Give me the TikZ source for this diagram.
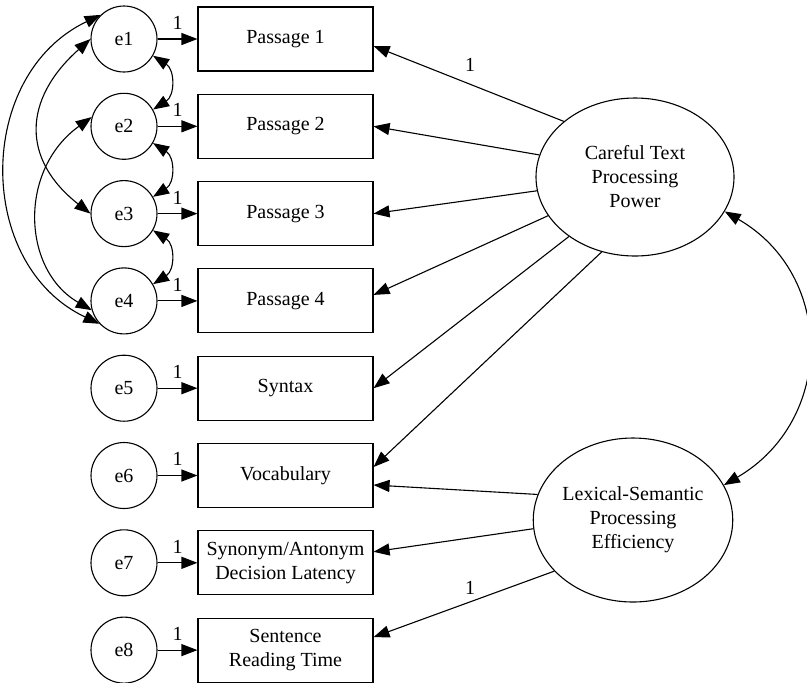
\documentclass[tikz,border=0pt]{standalone}
\usepackage{fontspec}
\setmainfont{Liberation Serif}
\usetikzlibrary{shapes.geometric,arrows.meta}

\begin{document}
\begin{tikzpicture}[x=0.5pt,y=-0.5pt,line width=0.55pt,
  font=\fontsize{10}{12}\selectfont,
  tip/.tip={Triangle[length=8pt,width=6pt]},
  errc/.style={circle,draw,minimum size=33pt,inner sep=0pt},
  obs/.style={rectangle,draw,minimum width=87.5pt,minimum height=32pt,inner sep=1pt,align=center},
  lat/.style={ellipse,draw,minimum width=99pt,inner sep=0pt,align=center},
  reg/.style={-tip},
  cov/.style={tip-tip},
  one/.style={inner sep=0.5pt}]
\useasboundingbox (0,0) rectangle (807,682);

% error terms
\node[errc] (e1) at (124,39)    {e1};
\node[errc] (e2) at (124,126.3) {e2};
\node[errc] (e3) at (124,213.6) {e3};
\node[errc] (e4) at (124,300.9) {e4};
\node[errc] (e5) at (124,388.2) {e5};
\node[errc] (e6) at (124,475.5) {e6};
\node[errc] (e7) at (124,562.8) {e7};
\node[errc] (e8) at (124,650.1) {e8};

% observed measures
\node[obs] (p1) at (285.5,39)    {Passage 1};
\node[obs] (p2) at (285.5,126.3) {Passage 2};
\node[obs] (p3) at (285.5,213.6) {Passage 3};
\node[obs] (p4) at (285.5,300.9) {Passage 4};
\node[obs] (syn) at (285.5,388.2) {Syntax};
\node[obs] (voc) at (285.5,475.5) {Vocabulary};
\node[obs] (sad) at (285.5,562.8) {Synonym/Antonym\\Decision Latency};
\node[obs] (srt) at (285.5,650.1) {Sentence\\Reading Time};

% latent factors
\node[lat,minimum height=79pt] (ctp) at (635,177) {Careful Text\\Processing\\Power};
\node[lat,minimum height=82pt] (lsp) at (633,520) {Lexical-Semantic\\Processing\\Efficiency};

% error paths
\draw[reg] (e1) -- node[above=4pt,one]{1} (p1);
\draw[reg] (e2) -- node[above=4pt,one]{1} (p2);
\draw[reg] (e3) -- node[above=4pt,one]{1} (p3);
\draw[reg] (e4) -- node[above=4pt,one]{1} (p4);
\draw[reg] (e5) -- node[above=4pt,one]{1} (syn);
\draw[reg] (e6) -- node[above=4pt,one]{1} (voc);
\draw[reg] (e7) -- node[above=4pt,one]{1} (sad);
\draw[reg] (e8) -- node[above=4pt,one]{1} (srt);

% factor loadings
\draw[reg] (ctp.142.8) -- ([yshift=-3.5pt]p1.east);
\draw[reg] (ctp.167.2) -- (p2.east);
\draw[reg] (ctp.188.7) -- (p3.east);
\draw[reg] (ctp.204.1) -- ([yshift=3pt]p4.east);
\draw[reg] (ctp.222.7) -- (syn.east);
\draw[reg] (ctp.246.3) -- ([yshift=4.25pt]voc.east);
\draw[reg] (lsp.165.4) -- ([yshift=-4.75pt]voc.east);
\draw[reg] (lsp.185.8) -- ([yshift=5.5pt]sad.east);
\draw[reg] (lsp.213.9) -- ([yshift=6.5pt]srt.east);
\node[one] (fix1) at (470,65)  {1};
\node[one] (fix2) at (470,588) {1};

% factor covariance
\draw[cov] (ctp.339) .. controls (835,275) and (835,420) .. (lsp.21);

% error covariances
\draw[cov] (e1.-30) .. controls +(22,14) and +(22,-14) .. (e2.30);
\draw[cov] (e2.-30) .. controls +(22,14) and +(22,-14) .. (e3.30);
\draw[cov] (e3.-30) .. controls +(22,14) and +(22,-14) .. (e4.30);
\draw[cov] (e1.180) .. controls (22,100) and (22,160) .. (e3.180);
\draw[cov] (e2.164) .. controls (18,170) and (22,270) .. (e4.196);
\draw[cov] (e1.134) .. controls (-25,75) and (-25,265) .. (e4.223);
\end{tikzpicture}
\end{document}
